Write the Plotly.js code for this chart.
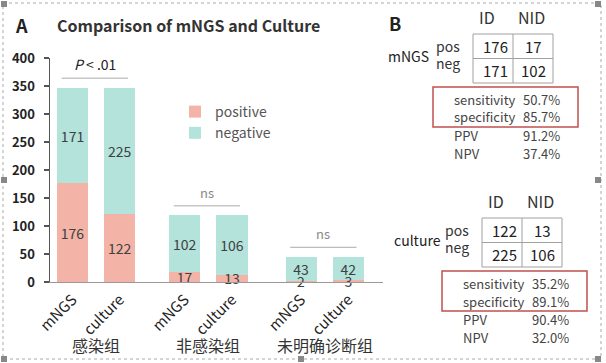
<!DOCTYPE html>
<html>
<head>
<meta charset="utf-8">
<script src="https://cdn.plot.ly/plotly-3.0.1.min.js"></script>
<style>html,body{margin:0;padding:0;background:#fff;}#chart{width:606px;height:363px;}</style>
</head>
<body>
<div id="chart"></div>
<script>
// ---------------- data ----------------
const groups = ['感染组', '非感染组', '未明确诊断组'];
const methods = ['mNGS', 'culture', 'mNGS', 'culture', 'mNGS', 'culture'];
const positive = [176, 122, 17, 13, 2, 3];
const negative = [171, 225, 102, 106, 43, 42];
const sigLabels = ['<i>P</i> < .01', 'ns', 'ns'];

const tableNames = ['mNGS', 'culture'];
const colHeaders = ['ID', 'NID'];
const rowHeaders = ['pos', 'neg'];
const mngsTable = [[176, 17], [171, 102]];
const cultureTable = [[122, 13], [225, 106]];
const statNames = ['sensitivity', 'specificity', 'PPV', 'NPV'];
const mngsStats = ['50.7%', '85.7%', '91.2%', '37.4%'];
const cultureStats = ['35.2%', '89.1%', '90.4%', '32.0%'];

// ---------------- layout helpers ----------------
const xPos = [0, 1, 2.37, 3.37, 4.83, 5.83];   // bar slots on the x axis
const M = {l: 50, r: 223, t: 58, b: 81};
const PW = 606 - M.l - M.r, PH = 363 - M.t - M.b;
const px = x => (x - M.l) / PW;
const py = y => (363 - M.b - y) / PH;
const FONT = '"Noto Sans CJK SC", "Noto Sans", sans-serif';
const POS_C = '#F3B3A7', NEG_C = '#B3E3DB';

const totals = positive.map((p, i) => p + negative[i]);

// negative drawn first (stacked on top of positive via base) so that the
// positive labels are painted above it, as in the reference
const traces = [
  {type: 'bar', name: 'negative', x: xPos, y: negative, base: positive, width: 0.66,
   marker: {color: NEG_C}, text: negative.map(String), textposition: 'inside', textangle: 0,
   insidetextanchor: 'middle', textfont: {size: 14, color: '#404040', family: FONT},
   cliponaxis: false, hoverinfo: 'none'},
  {type: 'bar', name: 'positive', x: xPos, y: positive, width: 0.66,
   marker: {color: POS_C}, text: positive.map(String), textposition: 'inside', textangle: 0,
   insidetextanchor: 'middle', textfont: {size: 14, color: '#404040', family: FONT},
   cliponaxis: false, hoverinfo: 'none'}
];

const shapes = [];
const annotations = [];
const txt = (x, y, t, size, color, xanchor) => annotations.push({xref: 'paper', yref: 'paper',
    x: px(x), y: py(y), text: t, showarrow: false, xanchor: xanchor || 'center', yanchor: 'middle',
    font: {family: FONT, size: size, color: color}});

// significance brackets
groups.forEach((g, k) => {
  const a = xPos[2 * k], b = xPos[2 * k + 1];
  const top = Math.max(totals[2 * k], totals[2 * k + 1]) + 17;
  shapes.push({type: 'line', xref: 'x', yref: 'y', x0: a - 0.23, x1: b + 0.17, y0: top, y1: top,
               line: {color: '#aaaaaa', width: 1}});
  annotations.push({xref: 'x', yref: 'y', x: (a + b) / 2 - 0.03, y: top, xanchor: 'center', yanchor: 'bottom', yshift: 2,
                    text: sigLabels[k], showarrow: false,
                    font: {family: FONT, size: k === 0 ? 14 : 13, color: k === 0 ? '#222' : '#888'}});
  // group label
  annotations.push({xref: 'x', yref: 'paper', x: (a + b) / 2, y: py(345), xanchor: 'center', yanchor: 'middle',
                    text: g, showarrow: false, font: {family: FONT, size: 16, color: '#333'}});
});

// panel titles
txt(21, 25, '<b>A</b>', 18, '#222');
txt(55, 25, '<b>Comparison of mNGS and Culture</b>', 16, '#333', 'left');
txt(395, 23, '<b>B</b>', 18, '#222');

// panel B tables
function drawTable(name, vals, stats, left, top) {
  const cw = 40, rh = 24.5;
  const pl = (x0, y0, x1, y1, color, w) => shapes.push({type: 'line', xref: 'paper', yref: 'paper',
      x0: px(x0), y0: py(y0), x1: px(x1), y1: py(y1), line: {color: color, width: w}});
  for (let r = 0; r <= 2; r++) pl(left, top + r * rh, left + 2 * cw, top + r * rh, '#a0a0a0', 1);
  for (let c = 0; c <= 2; c++) pl(left + c * cw, top, left + c * cw, top + 2 * rh, '#a0a0a0', 1);
  colHeaders.forEach((h, c) => txt(left + c * cw + cw / 2 - (c === 0 ? 6 : 2), top - 17, h, 16, '#333'));
  rowHeaders.forEach((h, r) => txt(left - 25, top + rh / 2 + r * 17, h, 14, '#333'));
  txt(left - 65, top + 22, name, 14, '#222');
  vals.forEach((row, r) => row.forEach((v, c) =>
      txt(left + c * cw + cw / 2 + (c === 0 ? 2 : 0), top + r * rh + rh / 2, String(v), 15, '#222')));
  const bottom = top + 2 * rh;
  shapes.push({type: 'rect', xref: 'paper', yref: 'paper', x0: px(left - 40), x1: px(left + 105),
               y0: py(bottom + 4), y1: py(bottom + 44), line: {color: '#C0504D', width: 1.5}});
  statNames.forEach((s, i) => {
    txt(left - 21, bottom + 16 + i * 18, s, 13, '#444', 'left');
    txt(left + 48, bottom + 16 + i * 18, stats[i], 13, '#444', 'left');
  });
}
drawTable(tableNames[0], mngsTable, mngsStats, 473, 34);
drawTable(tableNames[1], cultureTable, cultureStats, 482, 218);

// dotted frame with handles
shapes.push({type: 'rect', xref: 'paper', yref: 'paper', x0: px(3), x1: px(601), y0: py(3), y1: py(359),
             line: {color: '#aaaaaa', width: 1, dash: 'dot'}});
[[4, 4], [598, 4], [4, 180], [598, 180], [4, 359], [301, 359], [598, 359]].forEach(([hx, hy]) => {
  shapes.push({type: 'rect', xref: 'paper', yref: 'paper', x0: px(hx - 3), x1: px(hx + 3),
               y0: py(hy - 3), y1: py(hy + 3), fillcolor: '#888', line: {width: 0}});
});

const layout = {
  width: 606, height: 363, margin: M,
  paper_bgcolor: '#fff', plot_bgcolor: '#fff',
  barmode: 'overlay', bargap: 0,
  font: {family: FONT, color: '#333'},
  uniformtext: {mode: 'show', minsize: 14},
  showlegend: true,
  legend: {x: px(175), y: py(96), xanchor: 'left', yanchor: 'top', bgcolor: 'rgba(0,0,0,0)',
           font: {family: FONT, size: 14, color: '#555'}, tracegroupgap: 0, traceorder: 'reversed'},
  xaxis: {range: [-0.476, 6.56], tickmode: 'array', tickvals: xPos, ticktext: methods,
          tickangle: -45, tickfont: {family: FONT, size: 15, color: '#222'},
          showline: true, linecolor: '#999', linewidth: 1, ticks: '', showgrid: false, zeroline: false,
          ticklabelstandoff: 2, fixedrange: true},
  yaxis: {range: [0, 400], dtick: 50, tick0: 0, showline: true, linecolor: '#555', linewidth: 1.5,
          ticks: 'outside', ticklen: 5, tickcolor: '#555', tickwidth: 1.5, ticklabelstandoff: 6,
          tickfont: {family: FONT, size: 13, color: '#222', weight: 'bold'}, showgrid: false, zeroline: false,
          fixedrange: true},
  shapes: shapes,
  annotations: annotations
};

Plotly.newPlot('chart', traces, layout, {displayModeBar: false, staticPlot: true});
</script>
</body>
</html>
